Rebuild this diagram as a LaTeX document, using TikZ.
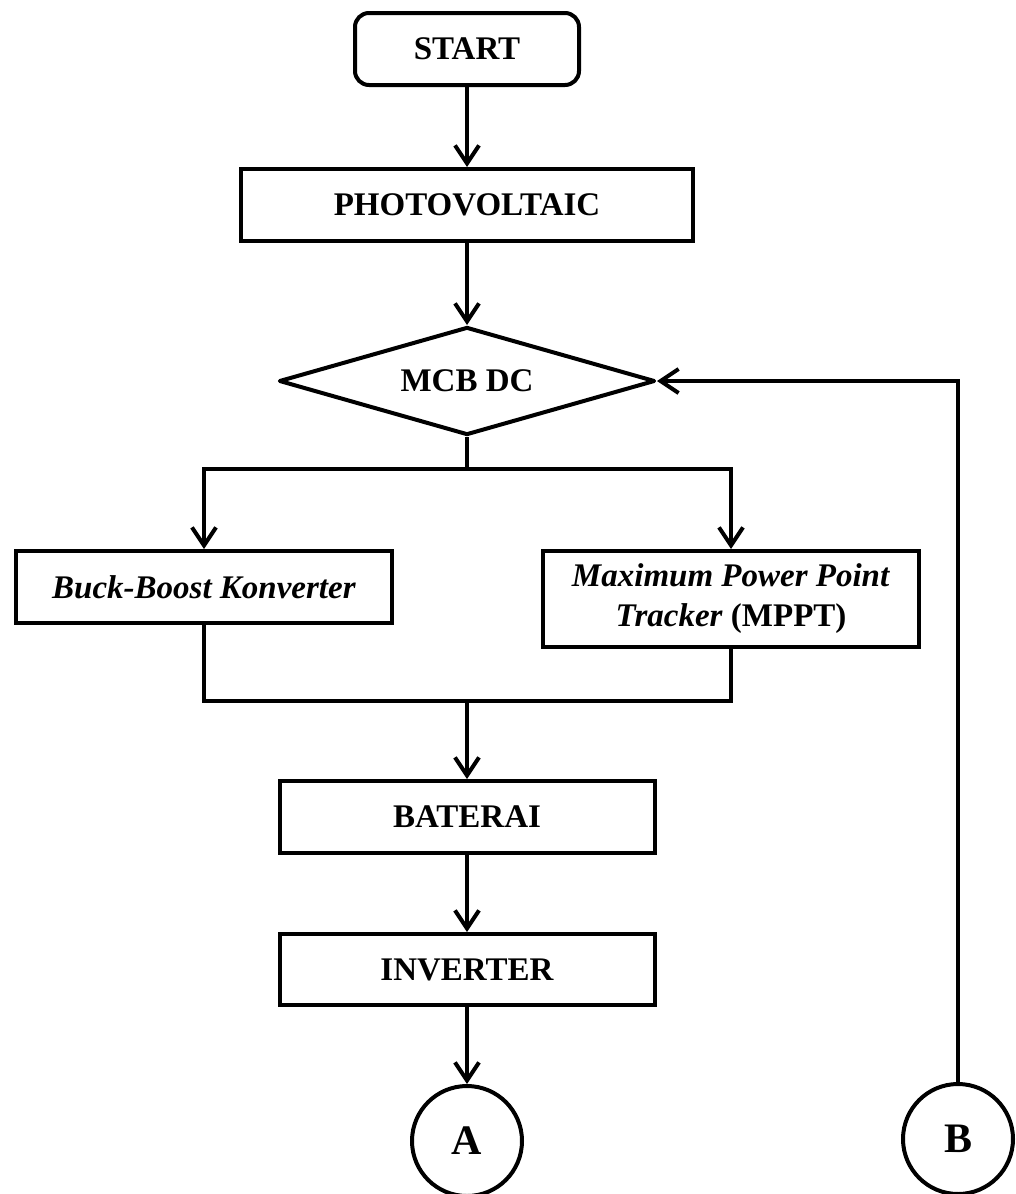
\documentclass[tikz,border=0pt]{standalone}
\usepackage{fontspec}
\setmainfont{Liberation Serif}
\usetikzlibrary{arrows.meta,shapes.geometric}
\begin{document}
\begin{tikzpicture}[x=1pt,y=-1pt,line width=4pt,
  box/.style={draw,rectangle,inner sep=0pt,align=center,
    font=\fontsize{33}{40}\selectfont\bfseries},
  decision/.style={draw,diamond,aspect=3.48,inner sep=0pt,line join=round,
    font=\fontsize{33}{40}\selectfont\bfseries},
  conn/.style={draw,circle,inner sep=0pt,minimum size=110pt,
    font=\fontsize{42}{50}\selectfont\bfseries},
  arr/.style={-{Straight Barb[length=18pt,width=24pt,line width=4pt]}}]
\useasboundingbox (0,0) rectangle (1016,1194);
\node[box,rounded corners=14pt,minimum width=224pt,minimum height=72pt] (start) at (467,49) {START};
\node[box,minimum width=452pt,minimum height=72pt] (pv) at (467,205) {PHOTOVOLTAIC};
\node[decision,minimum width=376pt,minimum height=108pt] (mcb) at (467,381) {MCB DC};
\node[box,minimum width=376pt,minimum height=72pt] (buck) at (204,587) {\textit{Buck-Boost Konverter}};
\node[box,minimum width=376pt,minimum height=96pt] (mppt) at (731,599) {\textit{Maximum Power Point}\\\textit{Tracker} (MPPT)};
\node[box,minimum width=375pt,minimum height=72pt] (bat) at (467,817) {BATERAI};
\node[box,minimum width=375pt,minimum height=71pt] (inv) at (467,969.5) {INVERTER};
\node[conn] (A) at (467,1141) {A};
\node[conn] (B) at (958,1139) {B};
\coordinate (j1) at (467,469);
\coordinate (j2) at (467,701);
\draw[arr] (start) -- (pv);
\draw[arr] (pv) -- (mcb);
\draw (mcb.south) -- (j1);
\draw[arr] (j1) -| (buck.north);
\draw[arr] (j1) -| (mppt.north);
\draw (buck.south) |- (j2) -| (mppt.south);
\draw[arr] (j2) -- (bat);
\draw[arr] (bat) -- (inv);
\draw[arr] (inv) -- (A);
\draw[arr] (B.north) |- (mcb.east);
\end{tikzpicture}
\end{document}
